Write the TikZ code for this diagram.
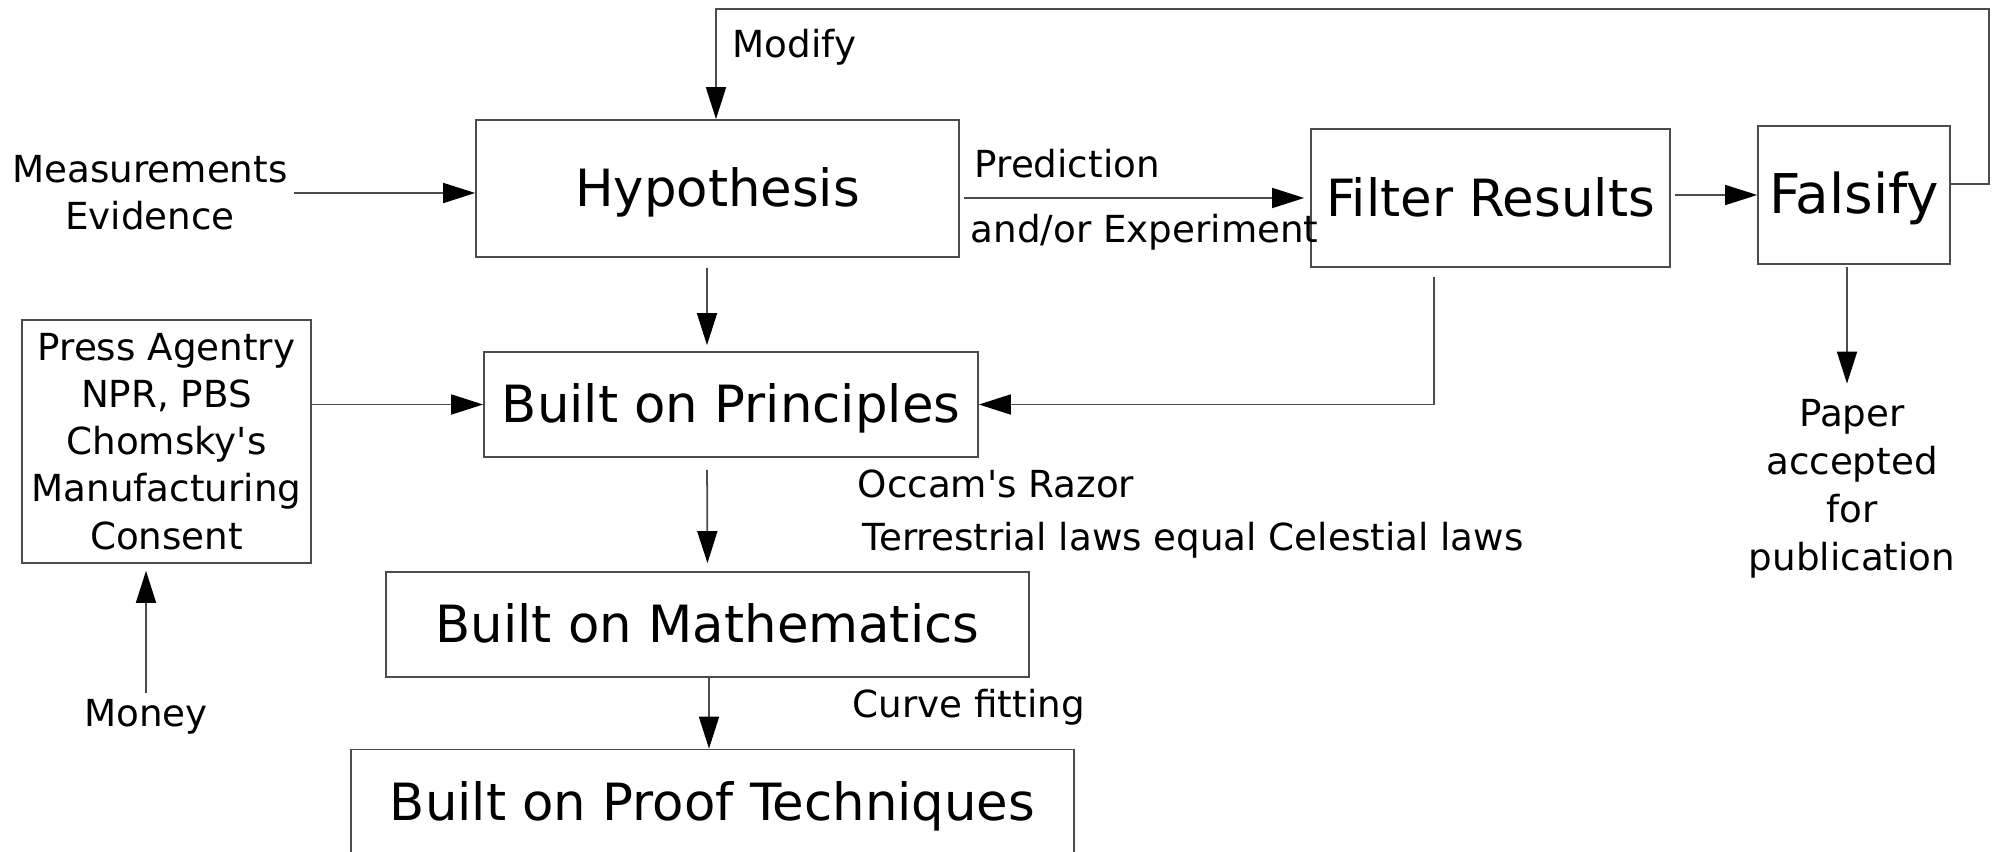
\documentclass[tikz,border=0pt]{standalone}
\usepackage{fontspec}
\setmainfont{DejaVu Sans}
\usetikzlibrary{arrows.meta, positioning}

\newcommand{\apos}{\textquotesingle}

\begin{document}
\begin{tikzpicture}[
    box/.style={draw=black!70, line width=0.5pt, inner sep=0pt, align=center},
    big/.style={font=\fontsize{14.6}{17}\selectfont, text height=13.9pt, text depth=3.5pt},
    lbl/.style={inner sep=0pt, align=center, font=\fontsize{10.6}{13.4}\selectfont},
    arr/.style={-{Triangle[length=3.2mm, width=2mm, color=black]}, draw=black!70, line width=0.5pt},
]
    \useasboundingbox (0,0) rectangle (19.97,-8.52);
    \clip (0,0) rectangle (19.97,-8.52);

    %==================== MAIN CHAIN ====================
    \node[box, big, minimum width=4.83cm, minimum height=1.37cm] (hyp) at (7.175,-1.885) {Hypothesis};
    \node[box, big, minimum width=3.59cm, minimum height=1.38cm] (filter) at (14.905,-1.98) {Filter Results};
    \node[box, big, font=\fontsize{15.6}{18}\selectfont, minimum width=1.92cm, minimum height=1.38cm]
        (fals) at (18.54,-1.95) {Falsify};

    %==================== BUILT ON ... ====================
    \node[box, big, minimum width=4.94cm, minimum height=1.05cm] (prin) at (7.31,-4.045) {Built on Principles};
    \node[box, big, minimum width=6.43cm, minimum height=1.05cm] (math) at (7.075,-6.245) {Built on Mathematics};
    \node[box, big, minimum width=7.23cm, minimum height=1.05cm] (proof) at (7.125,-8.02) {Built on Proof Techniques};

    %==================== PRESS ====================
    \node[box, lbl, minimum width=2.89cm, minimum height=2.43cm] (press) at (1.665,-4.415)
        {Press Agentry\\NPR, PBS\\Chomsky\apos s\\Manufacturing\\Consent};

    %==================== labels ====================
    \node[lbl] (meas) at (1.50,-1.93) {Measurements\\Evidence};
    \node[lbl] (money) at (1.46,-7.17) {Money};
    \node[lbl, font=\fontsize{10.6}{13.7}\selectfont] (paper) at (18.52,-4.89) {Paper\\accepted\\for\\publication};
    \node[lbl, anchor=west] (modify) at (7.32,-0.47) {Modify};
    \node[lbl, anchor=west] (pred) at (9.74,-1.64) {Prediction};
    \node[lbl, anchor=west] (exper) at (9.70,-2.32) {and/or Experiment};
    \node[lbl, anchor=west] (occam) at (8.57,-4.84) {Occam\apos s Razor};
    \node[lbl, anchor=west] (terr) at (8.62,-5.40) {Terrestrial laws equal Celestial laws};
    \node[lbl, anchor=west] (curve) at (8.52,-7.07) {Curve fitting};

    % corners of the modify loop
    \coordinate (loopR) at (19.89,-0.09);
    \coordinate (loopL) at (7.16,-0.09);

    %==================== connectors ====================
    \draw[arr] ([xshift=0.06cm]meas.east) -- (meas.east -| hyp.west);
    \draw[arr, shorten >=0.6mm] ([xshift=0.04cm]hyp.east |- filter.west) -- (filter.west);
    \draw[arr, shorten <=0.4mm] (filter.east |- fals.west) -- (fals.west);

    % modify loop back to the hypothesis
    \draw[arr] ([yshift=0.11cm]fals.east) -| (loopR) -- (loopL) -- (loopL |- hyp.north);

    % down the chain
    \draw[arr, shorten <=1mm, shorten >=0.6mm] ([xshift=-1.05mm]hyp.south) -- ([xshift=-2.4mm]prin.north);
    \draw[arr, shorten <=1.2mm, shorten >=0.8mm] ([xshift=-2.4mm]prin.south) -- (math.north);
    \draw[arr] ([xshift=0.15mm]math.south) -- ([xshift=-0.35mm]proof.north);

    % results feed back into principles
    \draw[arr] ([xshift=-0.565cm, yshift=-0.09cm]filter.south) |- (prin.east);

    \draw[arr] (press.east |- prin.west) -- (prin.west);
    \draw[arr, shorten >=0.7mm] ([yshift=0.06cm]money.north) -- (money.north |- press.south);
    \draw[arr, shorten <=0.2mm, shorten >=1.5mm] ([xshift=-0.7mm]fals.south) -- ([xshift=-0.7mm]fals.south |- paper.north);

\end{tikzpicture}
\end{document}
